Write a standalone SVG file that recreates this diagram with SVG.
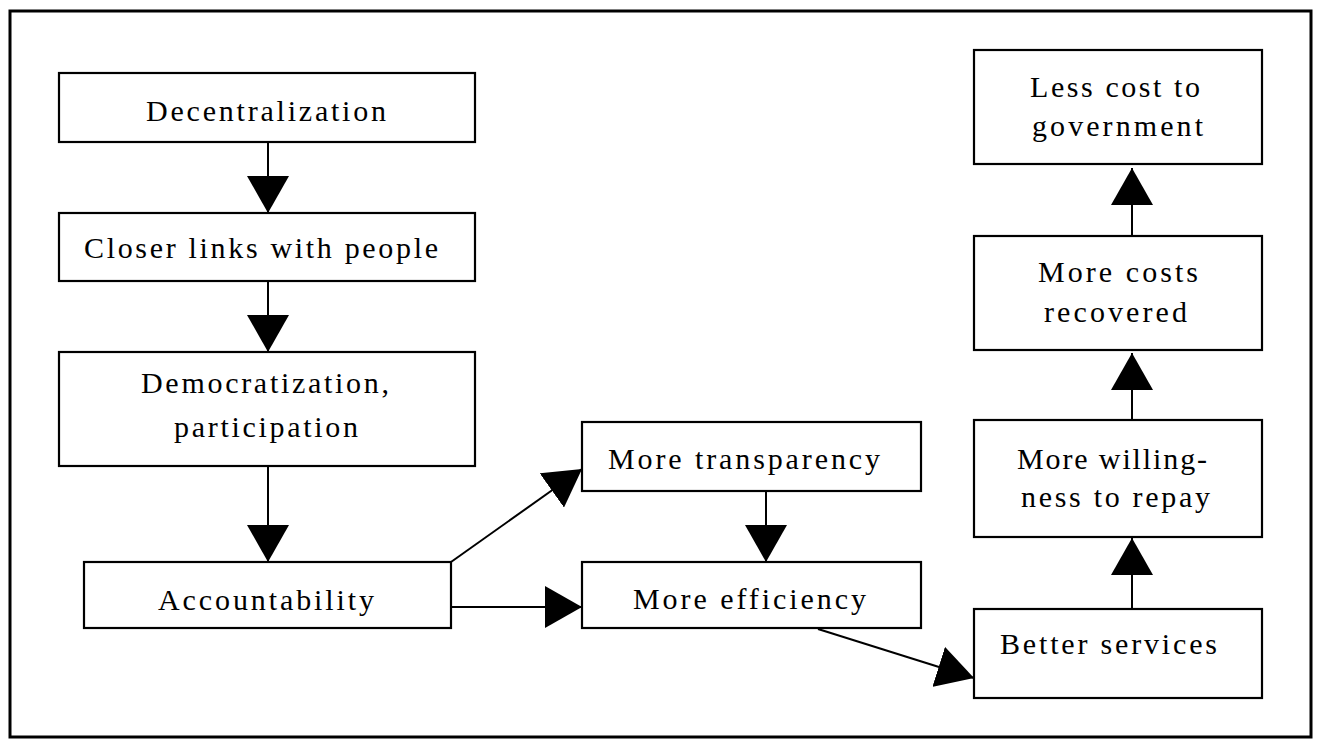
<svg xmlns="http://www.w3.org/2000/svg" width="1317" height="742" viewBox="0 0 1317 742">
<style>
.box{fill:#fff;stroke:#000;stroke-width:2.2}
.t{font-family:"Liberation Serif","Times New Roman",serif;font-size:30px;fill:#000}
.c{stroke:#000;stroke-width:2;fill:none}
</style>
<defs>
<marker id="ah" viewBox="0 0 37 42" refX="37" refY="21" markerWidth="37" markerHeight="42" orient="auto" markerUnits="userSpaceOnUse">
<path d="M0,0 L37,21 L0,42 Z" fill="#000"/>
</marker>
</defs>
<rect x="10" y="11" width="1301" height="726" fill="#fff" stroke="#000" stroke-width="3"/>
<g id="connectors">
<line class="c" x1="268" y1="142" x2="268" y2="213" marker-end="url(#ah)"/>
<line class="c" x1="268" y1="281" x2="268" y2="352" marker-end="url(#ah)"/>
<line class="c" x1="268" y1="466" x2="268" y2="562" marker-end="url(#ah)"/>
<line class="c" x1="451" y1="562" x2="582" y2="469" marker-end="url(#ah)"/>
<line class="c" x1="451" y1="607" x2="582" y2="607" marker-end="url(#ah)"/>
<line class="c" x1="766" y1="491" x2="766" y2="562" marker-end="url(#ah)"/>
<line class="c" x1="818" y1="629" x2="974" y2="678" marker-end="url(#ah)"/>
<line class="c" x1="1132" y1="609" x2="1132" y2="538" marker-end="url(#ah)"/>
<line class="c" x1="1132" y1="420" x2="1132" y2="353" marker-end="url(#ah)"/>
<line class="c" x1="1132" y1="236" x2="1132" y2="168" marker-end="url(#ah)"/>
</g>
<g id="decentralization">
<rect class="box" x="59" y="73" width="416" height="69"/>
<text class="t" x="146" y="121" textLength="240" lengthAdjust="spacing">Decentralization</text>
</g>
<g id="closer-links">
<rect class="box" x="59" y="213" width="416" height="68"/>
<text class="t" x="84" y="258" textLength="354" lengthAdjust="spacing">Closer links with people</text>
</g>
<g id="democratization">
<rect class="box" x="59" y="352" width="416" height="114"/>
<text class="t" x="141" y="393" textLength="248" lengthAdjust="spacing">Democratization,</text>
<text class="t" x="174" y="437" textLength="184" lengthAdjust="spacing">participation</text>
</g>
<g id="accountability">
<rect class="box" x="84" y="562" width="367" height="66"/>
<text class="t" x="158" y="610" textLength="216" lengthAdjust="spacing">Accountability</text>
</g>
<g id="transparency">
<rect class="box" x="582" y="422" width="339" height="69"/>
<text class="t" x="608" y="469" textLength="272" lengthAdjust="spacing">More transparency</text>
</g>
<g id="efficiency">
<rect class="box" x="582" y="562" width="339" height="66"/>
<text class="t" x="633" y="609" textLength="233" lengthAdjust="spacing">More efficiency</text>
</g>
<g id="better-services">
<rect class="box" x="974" y="609" width="288" height="89"/>
<text class="t" x="1000" y="654" textLength="217" lengthAdjust="spacing">Better services</text>
</g>
<g id="willingness">
<rect class="box" x="974" y="420" width="288" height="117"/>
<text class="t" x="1017" y="469" textLength="190" lengthAdjust="spacing">More willing-</text>
<text class="t" x="1021" y="507" textLength="189" lengthAdjust="spacing">ness to repay</text>
</g>
<g id="costs-recovered">
<rect class="box" x="974" y="236" width="288" height="114"/>
<text class="t" x="1038" y="282" textLength="160" lengthAdjust="spacing">More costs</text>
<text class="t" x="1044" y="322" textLength="143" lengthAdjust="spacing">recovered</text>
</g>
<g id="less-cost">
<rect class="box" x="974" y="50" width="288" height="114"/>
<text class="t" x="1030" y="97" textLength="170" lengthAdjust="spacing">Less cost to</text>
<text class="t" x="1032" y="136" textLength="171" lengthAdjust="spacing">government</text>
</g>
</svg>
